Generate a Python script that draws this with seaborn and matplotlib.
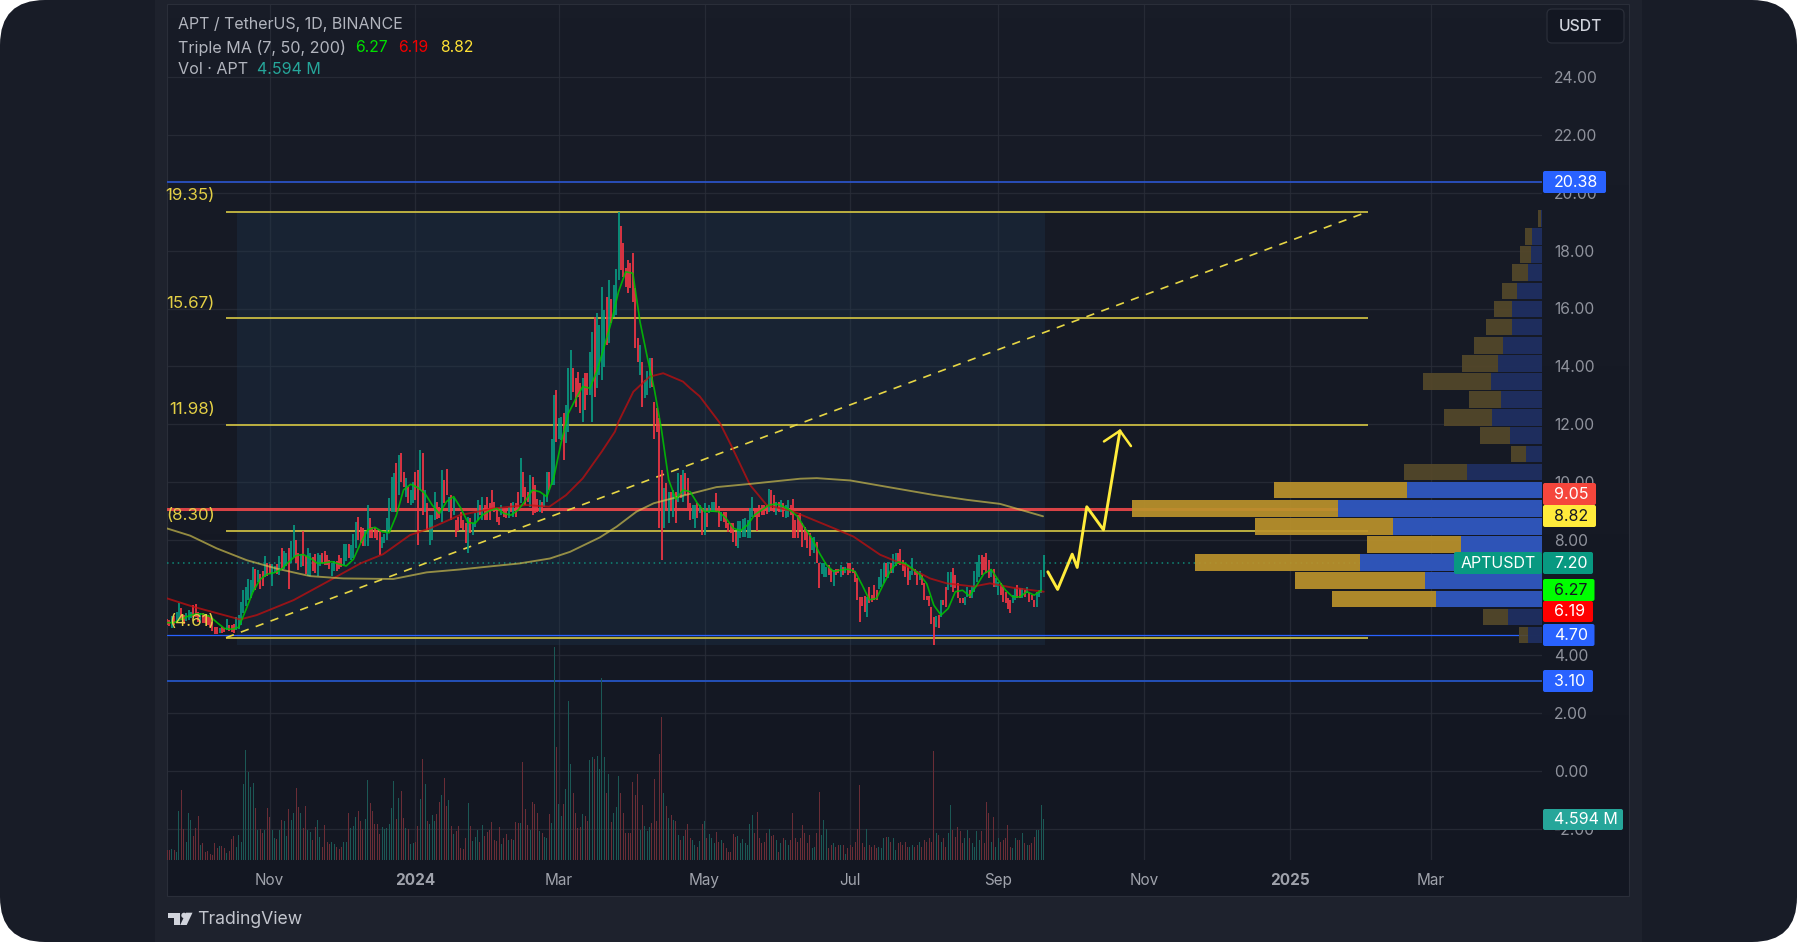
"""APT / USDT daily chart with fib levels and volume profile."""
import numpy as np
import pandas as pd
import matplotlib
matplotlib.use("Agg")
import matplotlib.pyplot as plt
from matplotlib.patches import FancyBboxPatch, Rectangle, Circle, Polygon
import seaborn as sns

W, H = 1797, 942
PANE_L, PANE_R, SCALE_L, PANE_T, PANE_B, VOL_B = 167, 1629, 1542, 4, 896, 860
TEAL, RED = "#089981", "#f23645"
GRID = "#2a2e39"
START = pd.Timestamp("2023-09-19")

# ── daily candles ─────────────────────────────────────────────────────────────
candle_low = [
    5.05,5.0,4.95,5.05,5.13,5.2,5.22,5.1,5.17,5.22,
    5.28,5.33,5.33,5.16,5.13,5.11,5.11,5.05,4.99,4.85,
    4.74,4.74,4.76,4.78,4.82,4.88,4.85,4.82,4.78,4.88,
    4.9,5.05,5.45,5.7,5.9,6.0,6.2,6.25,6.55,6.3,
    6.4,6.7,6.75,6.8,6.4,6.85,6.8,6.78,6.95,7.0,
    7.1,6.3,7.2,7.4,7.2,6.95,7.05,7.1,6.8,6.75,
    6.75,6.9,6.85,6.75,7.1,7.18,7.12,7.12,7.0,6.75,
    6.9,6.9,7.0,7.05,7.12,7.25,7.35,7.3,7.35,7.7,
    8.0,7.9,7.77,7.77,7.77,8.05,8.05,8.05,8.0,7.47,
    7.7,7.87,8.0,8.33,8.97,8.97,8.97,9.55,10.0,9.83,
    9.49,9.26,9.2,9.26,9.37,7.82,9.72,8.85,8.97,8.34,
    7.82,8.0,8.68,8.7,8.74,8.62,9.26,9.55,8.97,8.68,
    8.85,8.1,8.3,8.39,8.34,7.87,7.53,8.22,8.16,8.45,
    8.68,8.85,8.68,8.68,8.68,8.68,9.03,8.95,8.62,8.5,
    8.85,8.8,8.75,8.75,8.97,8.8,8.8,9.09,9.26,9.49,
    9.2,9.3,9.14,8.85,8.91,8.95,8.97,8.91,9.14,9.31,
    9.72,9.9,9.9,11.37,11.5,11.45,10.76,11.33,11.74,12.83,
    13.12,12.6,12.95,12.37,12.08,12.49,13.0,13.0,12.08,12.95,
    13.24,13.7,13.53,13.99,14.74,14.79,15.49,15.72,15.77,16.98,
    17.33,17.1,16.75,16.52,16.7,16.24,14.62,14.16,13.7,12.6,
    12.89,13.0,13.24,13.3,11.5,11.74,8.39,7.3,8.39,9.08,
    8.57,9.0,8.8,8.57,9.3,9.43,9.3,9.55,9.03,8.68,
    8.7,8.4,8.74,8.92,8.16,8.16,8.45,8.92,8.97,8.97,
    8.97,8.45,8.63,8.6,8.4,8.28,8.22,7.93,7.78,7.7,
    8.05,8.1,8.1,8.05,8.05,8.8,8.8,8.3,8.8,8.85,
    8.85,8.9,8.97,9.03,8.97,8.85,8.97,8.97,8.8,8.74,
    8.8,8.85,8.05,8.05,8.05,8.34,7.76,7.99,7.7,7.42,
    7.65,7.53,7.2,6.32,6.8,6.72,6.72,6.78,6.55,6.4,
    6.78,6.84,6.72,6.78,6.84,6.78,6.84,6.84,6.55,5.92,
    5.16,5.7,5.5,5.33,5.8,5.85,5.9,5.9,6.3,6.35,
    6.5,6.7,6.66,6.84,6.84,7.1,7.16,7.12,6.9,6.72,
    6.43,6.6,6.78,6.78,6.43,6.6,6.43,5.9,5.9,5.7,
    5.1,4.36,4.97,4.93,5.33,5.74,5.68,6.26,6.38,6.2,
    6.32,5.97,5.8,5.8,5.75,6.02,6.0,6.0,6.2,6.55,
    6.72,6.78,6.95,6.84,6.66,6.72,6.38,6.38,6.1,6.1,
    5.86,5.8,5.6,5.48,5.8,5.92,5.97,5.97,5.97,6.03,
    6.15,5.86,5.9,5.68,5.68,6.03,6.15,6.72,
]
candle_high = [
    5.25,5.22,5.35,5.35,5.5,5.82,5.63,5.4,5.45,5.57,
    5.5,5.75,5.77,5.5,5.45,5.45,5.4,5.4,5.33,5.16,
    4.99,4.97,4.93,4.99,4.93,5.25,5.05,5.05,5.07,5.33,
    5.4,5.85,6.25,6.35,6.65,6.6,7.05,7.0,6.95,6.8,
    6.9,7.45,7.2,7.15,7.15,7.1,7.15,7.45,7.7,7.6,
    7.55,7.7,7.95,8.5,8.0,7.55,7.5,8.3,7.45,7.7,
    7.55,7.4,7.5,7.55,7.47,7.55,7.62,7.47,7.3,7.2,
    7.25,7.25,7.47,7.35,7.85,7.85,7.85,7.8,8.2,8.62,
    8.77,8.45,8.4,8.3,9.2,8.74,8.45,8.4,8.34,8.34,
    8.1,8.2,8.74,9.43,10.16,10.3,10.65,10.93,10.99,10.35,
    10.12,9.83,9.72,10.0,10.35,10.41,11.1,10.99,9.72,9.26,
    8.85,8.85,9.66,9.3,9.14,10.41,10.07,10.43,9.49,9.55,
    9.43,8.68,8.8,8.97,8.68,8.57,8.8,8.74,8.57,8.91,
    9.37,9.2,9.49,9.2,9.49,9.26,9.72,9.3,9.08,8.8,
    9.2,9.1,9.03,9.14,9.26,9.31,9.26,9.66,10.82,10.35,
    9.83,9.66,10.24,10.18,9.89,9.4,9.37,9.32,9.55,10.35,
    10.35,11.5,13.0,13.18,12.2,12.26,12.37,12.66,13.93,14.56,
    13.93,13.58,13.81,13.41,13.58,13.76,13.78,14.5,15.2,15.72,
    15.83,15.43,16.75,15.95,16.39,16.98,16.33,16.81,17.37,19.35,
    18.87,18.28,17.39,17.68,17.56,17.91,16.7,14.97,14.74,14.16,
    13.52,13.84,14.27,14.27,12.78,12.54,12.2,10.41,9.78,9.95,
    9.66,9.66,9.72,9.66,10.3,10.24,10.41,10.3,10.12,9.26,
    9.2,9.2,9.26,9.2,9.08,9.26,8.91,9.2,9.32,9.32,
    9.6,9.15,8.97,8.95,8.97,8.57,8.57,8.57,8.28,8.63,
    8.63,8.7,8.74,8.68,9.08,9.47,9.08,9.08,9.2,9.2,
    9.2,9.2,9.75,9.72,9.55,9.32,9.32,9.38,9.26,9.2,
    9.38,9.2,9.4,8.68,8.85,8.91,8.57,8.45,8.28,8.22,
    8.05,8.1,7.93,7.2,7.2,7.2,7.07,7.13,7.0,6.95,
    7.0,7.0,7.13,7.07,7.07,7.2,7.2,7.03,6.9,6.67,
    6.02,6.02,6.05,6.02,6.37,6.08,6.42,6.25,6.7,7.0,
    7.18,7.2,7.24,7.18,7.5,7.53,7.53,7.67,7.3,7.18,
    7.13,6.9,7.36,7.0,6.9,6.9,6.78,6.49,6.05,6.05,
    5.68,5.34,5.36,5.4,5.9,5.92,6.38,6.89,6.89,7.01,
    6.78,6.49,6.0,6.0,6.03,6.35,6.25,6.4,6.9,7.24,
    7.47,7.47,7.41,7.55,7.3,7.0,7.0,6.66,6.55,6.49,
    6.37,6.2,6.0,5.9,6.1,6.32,6.43,6.32,6.32,6.26,
    6.38,6.15,6.1,5.92,6.2,6.26,6.95,7.47,
]
candle_up = [
    0,0,1,0,1,1,0,0,1,1, 1,0,0,0,1,0,0,0,0,0, 0,0,1,0,0,1,0,0,0,1,
    1,1,1,1,1,1,1,0,1,0, 0,1,0,0,1,1,0,1,0,1, 1,0,1,1,0,0,1,0,0,1,
    1,0,0,1,1,0,0,0,0,1, 1,0,0,0,1,1,0,1,1,1, 0,0,0,1,1,0,0,0,0,0,
    1,1,1,1,1,1,0,1,0,0, 1,0,1,1,0,0,1,0,1,0, 1,1,1,0,0,1,0,0,1,0,
    1,0,0,0,0,0,1,0,1,1, 1,0,1,0,0,0,0,0,0,0, 1,0,0,1,0,1,0,0,1,0,
    0,0,1,0,0,0,1,0,1,1, 0,1,1,0,1,1,0,1,1,1, 0,0,0,0,1,0,0,1,1,0,
    1,1,1,1,0,1,0,1,1,1, 0,0,0,0,0,0,0,0,1,0, 1,1,1,0,0,0,0,0,1,0,
    1,0,1,0,1,0,1,0,0,0, 1,1,0,1,0,1,0,1,1,1, 0,0,1,0,0,0,0,0,0,1,
    1,1,1,1,1,1,0,0,0,0, 0,0,1,0,0,1,0,1,0,1, 1,0,0,0,0,0,0,0,0,0,
    1,1,0,0,1,1,1,0,0,1, 0,0,1,0,1,0,0,0,0,0, 0,0,0,1,0,0,0,0,1,1,
    1,0,1,0,1,1,0,0,0,0, 0,1,1,0,0,1,0,0,0,0, 0,0,1,0,1,0,0,1,1,0,
    0,0,0,0,1,1,0,1,1,1, 1,0,0,0,0,1,0,1,1,0, 0,0,0,0,1,1,0,0,1,0,
    1,0,0,0,1,1,1,1,
]
volumes = [
    1.1,1.1,1.2,1.1,.9,5.5,7.8,3.5,2.0,5.3, 4.5,2.7,3.6,4.9,1.7,1.9,.9,1.0,.7,.6,
    1.9,1.3,1.6,1.6,1.3,.8,1.0,2.3,2.7,1.5, 2.8,2.0,8.5,12.3,9.8,8.2,8.6,5.8,3.3,3.5,
    3.0,3.4,5.8,4.8,3.4,2.5,2.3,3.3,4.5,4.4, 2.7,5.7,4.5,5.3,8.0,5.9,5.3,3.6,6.0,3.3,
    3.1,2.2,3.7,4.5,2.6,1.4,3.9,2.0,1.8,2.0, 1.8,1.4,1.2,1.5,2.0,2.0,5.3,3.6,3.8,4.8,
    5.5,4.4,3.5,4.6,8.9,6.4,5.5,4.0,4.0,2.9, 3.7,3.5,3.6,4.0,5.8,8.8,4.6,6.9,7.7,4.7,
    3.6,3.5,1.8,1.9,2.0,3.8,6.8,11.3,8.5,4.4, 4.0,5.0,4.4,5.1,6.5,7.3,9.1,6.0,6.7,3.8,
    2.9,3.2,3.8,1.3,1.2,2.5,6.4,3.8,2.1,2.6, 3.3,2.0,3.9,2.7,3.1,3.3,4.2,2.2,2.1,3.7,
    1.8,2.4,2.9,2.2,2.3,2.2,4.2,4.1,4.1,10.9, 5.7,3.9,3.3,6.5,6.2,5.2,3.2,3.0,2.6,2.5,
    5.1,4.1,23.8,12.6,6.3,4.9,6.2,7.9,17.7,10.7, 7.5,5.2,3.6,3.7,5.1,4.9,4.4,11.2,11.5,11.3,
    11.6,10.1,20.3,11.5,7.5,9.6,4.2,5.2,5.9,9.4, 7.5,5.2,3.0,3.0,3.0,8.7,7.3,9.6,3.3,6.1,
    3.8,3.2,3.7,4.1,9.0,4.3,11.8,16.0,7.5,6.0, 4.7,5.0,4.5,4.3,2.8,2.2,2.7,3.3,4.0,2.4,
    2.2,1.7,1.4,2.1,4.0,4.3,2.4,2.9,2.4,1.9, 3.1,2.0,2.2,1.9,1.3,.9,.9,2.9,2.6,2.7,
    1.9,2.3,1.9,1.7,4.0,5.0,3.0,5.4,2.4,1.9, 2.0,3.0,3.5,2.7,2.8,2.2,.9,1.9,2.4,2.2,
    1.7,2.2,5.3,2.4,2.0,2.4,3.9,3.0,1.9,2.8, 1.3,1.5,3.0,7.6,2.8,4.5,3.5,1.3,1.7,1.9,
    1.5,1.7,1.7,1.7,.7,1.3,1.7,1.5,2.0,3.5, 8.4,1.9,1.5,3.5,1.7,1.5,1.7,1.3,1.5,1.3,
    2.4,2.6,2.6,2.0,2.4,1.1,1.9,2.0,1.7,2.0, 1.5,1.5,1.7,1.5,1.7,2.0,1.5,2.2,2.0,2.4,
    2.0,12.2,3.0,2.8,2.0,2.4,1.5,3.0,6.1,3.3, 2.6,3.7,3.2,1.9,2.4,3.3,2.4,1.9,1.5,3.2,
    2.2,3.2,1.9,6.5,5.2,2.0,4.8,1.5,2.4,2.0, 2.2,2.4,3.9,1.5,1.3,2.4,2.2,2.2,3.0,1.9,
    1.7,1.7,1.9,2.6,3.3,3.4,6.1,4.6,
]

# ── moving averages ───────────────────────────────────────────────────────────
ma7 = [
    5.13,5.13,5.25,5.36,5.43,5.43,5.34,5.13,4.93,4.9,
    4.97,5.57,6.2,6.63,6.81,6.86,6.98,7.24,7.45,7.49,
    7.36,7.18,7.2,7.24,7.16,7.09,7.32,7.87,8.34,8.43,
    8.28,8.24,8.84,9.72,9.92,9.8,9.6,9.2,8.9,9.32,
    9.49,9.09,8.59,8.57,8.85,9.0,9.08,8.91,8.85,9.03,
    9.35,9.72,9.66,9.49,10.18,11.37,12.37,12.86,13.3,13.24,
    13.85,14.68,15.54,16.58,17.27,17.22,15.54,14.33,13.2,11.8,
    10.07,9.4,9.72,9.66,9.26,8.97,8.99,8.97,8.74,8.4,
    8.31,8.51,8.86,9.03,9.2,9.24,9.15,9.01,8.8,8.4,
    8.05,7.55,7.13,6.9,6.95,6.98,6.9,6.43,5.92,5.97,
    6.48,6.95,7.23,7.18,7.0,6.8,6.48,5.73,5.39,5.62,
    6.2,6.25,6.05,6.43,6.83,6.97,6.6,6.25,6.02,6.02,
    6.2,6.08,6.25,
]
ma50_day = [0,11,30.6,37.5,53,67,81,90.5,101.7,110,122.6,136.6,150.5,160,167,174,182,187.5,189,195.2,
            202,207.7,216,219,223,231.5,236.4,244,251,262,279,287.3,298.5,307,319.4,326.4,337.5,344.5,354,367]
ma50 = [5.97,5.68,5.24,5.39,5.91,6.54,7.18,7.5,8.16,8.39,8.85,9.08,9.2,9.14,9.54,10.12,11.05,11.74,12.08,13.12,
        13.64,13.76,13.47,13.24,12.96,12.03,11.22,9.9,9.2,8.98,8.4,8.11,7.48,7.19,6.66,6.49,6.38,6.49,6.34,6.2]
ma200_day = [0,9.7,20.8,33.4,45.9,59.9,73.8,94.7,108.7,122.6,147.7,160.3,168.7,181.2,188.2,196.5,203.7,212,
             230,244,265,272,286,298.5,320.8,334.8,348.7,366.7]
ma200 = [8.39,8.14,7.7,7.29,7.0,6.74,6.66,6.64,6.87,6.97,7.18,7.35,7.58,8.08,8.45,8.97,9.26,9.44,
         9.82,9.93,10.11,10.13,10.05,9.87,9.55,9.38,9.24,8.81]

# ── levels and drawings ───────────────────────────────────────────────────────
fib_levels = [19.35, 15.67, 11.98, 8.30, 4.61]
fib_labels = ["19.35)", "15.67)", "11.98)", "(8.30)", "(4.61)"]
fib_label_y = [196, 303, 410, 516, 621]
fib_start_day, fib_end_day = 24.7, 502.7
box_start_day, box_end_day, box_bottom = 29.3, 367.6, 4.35
path_day = [368.7, 372.8, 378.9, 381, 385, 392, 398.9]
path_price = [6.89, 6.28, 7.5, 7.04, 9.14, 8.34, 11.77]
head_day = [392.2, 398.9, 403.5]
head_price = [11.4, 11.77, 11.24]

# ── volume profile, top row to bottom ─────────────────────────────────────────
vp_price = [19.12,18.49,17.86,17.24,16.61,15.98,15.36,14.73,14.10,13.48,12.85,12.22,
            11.60,10.97,10.34,9.72,9.09,8.46,7.84,7.21,6.58,5.95,5.33,4.70]
vp_buy = [.7,10.3,11,14.3,24.7,30,30.3,39,44,50.7,40.7,50,32,16,75,134.5,204,149,81,182,117,106,33.6,13.6]
vp_sell = [3.3,6.4,11,16,15.3,18,26,29,36,68.3,32.3,47.7,30,15.3,63,133.3,206,138,94,164.6,130,104.3,25.4,9.4]
vp_value_area = [0]*15 + [1]*7 + [0]*2

price_ticks = [24, 22, 20, 18, 16, 14, 12, 10, 8, 4, 2, 0, -2]
month_dates = ["2023-11-01","2024-01-01","2024-03-01","2024-05-01","2024-07-01",
               "2024-09-01","2024-11-01","2025-01-01","2025-03-01"]
month_labels = ["Nov","2024","Mar","May","Jul","Sep","Nov","2025","Mar"]

PX_PER_DAY, PX_PER_UNIT = 2.389, 28.9
price_at = lambda y: 24 - (y - 77.3) / PX_PER_UNIT

sns.set_theme(style="dark", rc={"axes.facecolor": "none", "figure.facecolor": "white"})
plt.rcParams["font.family"] = ["Inter", "DejaVu Sans"]

fig = plt.figure(figsize=(W / 100, H / 100), dpi=100)

def px_axes(left, top, right, bottom, z):
    ax = fig.add_axes([left / W, 1 - bottom / H, (right - left) / W, (bottom - top) / H], zorder=z)
    ax.patch.set_alpha(0)
    return ax

# background card, panel and pane
bg = px_axes(0, 0, W, H, 0)
bg.set_xlim(0, W); bg.set_ylim(H, 0); bg.axis("off")
card = FancyBboxPatch((0, 0), W, H, boxstyle="round,pad=0,rounding_size=45", fc="#181c27", ec="none")
bg.add_patch(card)
bg.add_patch(Rectangle((155, 0), 1642 - 155, H, fc="#1e222d", ec="none"))
bg.imshow(np.linspace(0, 1, 64)[:, None], extent=(PANE_L, PANE_R, PANE_B, PANE_T), aspect="auto", zorder=1,
          cmap=matplotlib.colors.LinearSegmentedColormap.from_list("pane", ["#181c27", "#131722"]))
bg.add_patch(Rectangle((PANE_L, PANE_T), PANE_R - PANE_L, PANE_B - PANE_T, fc="none", ec=GRID, lw=0.8, zorder=2))
bg.set_xlim(0, W); bg.set_ylim(H, 0)

# main price pane
ax = px_axes(PANE_L, PANE_T, SCALE_L, VOL_B, 1)
days = np.arange(len(candle_low))
ax.add_patch(Rectangle((box_start_day, box_bottom), box_end_day - box_start_day, 19.35 - box_bottom,
                       fc="#1f3a55", ec="none", alpha=0.3, zorder=1))
ax.axhline(20.38, color="#2a52c4", lw=1.3, zorder=2)
ax.axhline(3.10, color="#2450b8", lw=1.4, zorder=2)
ax.axhline(4.70, color="#2962ff", lw=0.9, zorder=3)
ax.axhline(9.05, color="#f0484a", lw=2.2, alpha=0.9, zorder=2)
ax.axhline(7.20, color="#0f8a78", lw=1.1, ls=(0, (1, 2.5)), zorder=2)
ax.hlines(fib_levels, fib_start_day, fib_end_day, color="#c9bb42", lw=1.3, zorder=3)
sns.lineplot(x=[fib_start_day, fib_end_day], y=[fib_levels[-1], fib_levels[0]], color="#e6d645", lw=1.2,
             ls=(0, (5, 4.5)), estimator=None, ax=ax, zorder=3)

colors = [TEAL if u else RED for u in candle_up]
ax.vlines(days, candle_low, candle_high, colors=colors, lw=1.25, zorder=4)

sns.lineplot(x=np.arange(len(ma7)) * 3, y=ma7, color="#00c800", lw=1.2, alpha=0.85, estimator=None, ax=ax, zorder=6)
sns.lineplot(x=ma50_day, y=ma50, color="#c40f0f", lw=1.35, alpha=0.75, estimator=None, ax=ax, zorder=5)
sns.lineplot(x=ma200_day, y=ma200, color="#d8c850", lw=1.35, alpha=0.65, estimator=None, ax=ax, zorder=5)
sns.lineplot(x=path_day, y=path_price, color="#ffeb3b", lw=2.1, estimator=None, sort=False, ax=ax, zorder=6)
sns.lineplot(x=head_day, y=head_price, color="#ffeb3b", lw=1.8, estimator=None, sort=False, ax=ax, zorder=6)

ax.set_xlim(0, (SCALE_L - PANE_L) / PX_PER_DAY)
ax.set_ylim(price_at(VOL_B), price_at(PANE_T))
ax.set_yticks(price_ticks)
ax.set_yticklabels([f"{v:.2f}" for v in price_ticks], fontsize=11.3, color="#8f929c")
ax.yaxis.tick_right()
tick_days = [(pd.Timestamp(d) - START).days for d in month_dates]
ax.set_xticks(tick_days)
ax.set_xticklabels(month_labels, fontsize=11, color="#a0a3ac")
for lab, txt in zip(ax.get_xticklabels(), month_labels):
    if txt.isdigit():
        lab.set_fontweight("bold")
ax.tick_params(axis="y", length=0, pad=8.6)
ax.tick_params(axis="x", length=0, pad=9.2)
ax.grid(True, color=GRID, lw=0.9, alpha=0.8)
ax.set_axisbelow(True)
ax.set_xlabel(""); ax.set_ylabel("")
for s in ax.spines.values():
    s.set_visible(False)

# volume pane
ax_vol = px_axes(PANE_L, 640, SCALE_L, VOL_B, 2)
vol_df = pd.DataFrame({"day": days[:len(volumes)], "vol": volumes[:len(days)],
                       "side": ["up" if u else "down" for u in candle_up[:len(volumes)]]})
sns.barplot(data=vol_df, x="day", y="vol", hue="side", palette={"up": "#1b5855", "down": "#6a2d36"},
            native_scale=True, dodge=False, width=0.42, saturation=1, legend=False, linewidth=0, ax=ax_vol)
ax_vol.set_xlim(ax.get_xlim())
ax_vol.set_ylim(0, 24.55)
ax_vol.axis("off")

# volume profile, growing left from the price scale
ax_vp = px_axes(PANE_L, PANE_T, SCALE_L, VOL_B, 3)
vp = pd.DataFrame({"price": vp_price, "buy": vp_buy, "total": np.add(vp_buy, vp_sell),
                   "zone": ["in" if v else "out" for v in vp_value_area]})
sns.barplot(data=vp, x="total", y="price", hue="zone", palette={"in": "#bb922b", "out": "#54482a"}, orient="y",
            native_scale=True, dodge=False, width=0.93, saturation=1, legend=False, linewidth=0, alpha=0.92, ax=ax_vp)
sns.barplot(data=vp, x="buy", y="price", hue="zone", palette={"in": "#2350c4", "out": "#1a2c62"}, orient="y",
            native_scale=True, dodge=False, width=0.93, saturation=1, legend=False, linewidth=0, alpha=0.92, ax=ax_vp)
ax_vp.set_xlim(SCALE_L - PANE_L, 0)
ax_vp.set_ylim(ax.get_ylim())
ax_vp.axis("off")

# overlay: header text, fib labels, price badges, footer
ov = px_axes(0, 0, W, H, 4)
ov.set_xlim(0, W); ov.set_ylim(H, 0); ov.axis("off")

GREY = "#b2b5be"
ov.text(178, 25, "APT / TetherUS, 1D, BINANCE", color=GREY, fontsize=11.5, va="center")
ov.text(178, 47.5, "Triple MA (7, 50, 200)", color=GREY, fontsize=11.6, va="center")
ov.text(355, 47.5, "6.27", color="#00e000", fontsize=11.3, va="center")
ov.text(398, 47.5, "6.19", color="#f00000", fontsize=11.3, va="center")
ov.text(440, 47.5, "8.82", color="#ffe135", fontsize=11.3, va="center")
ov.text(178, 69, "Vol · APT", color=GREY, fontsize=11.6, va="center")
ov.text(257, 69, "4.594 M", color="#26a69a", fontsize=11.5, va="center")

for lab, y in zip(fib_labels, fib_label_y):
    ov.text(214.5, y, lab, color="#e3cf45", fontsize=12.2, ha="right", va="center")

def badge(x0, x1, y0, y1, fc, txt, tc, tx=1554):
    ov.add_patch(FancyBboxPatch((x0, y0), x1 - x0, y1 - y0, boxstyle="round,pad=0,rounding_size=2",
                                fc=fc, ec="none"))
    ov.text(tx, (y0 + y1) / 2 + 0.5, txt, color=tc, fontsize=11.5, va="center")

badge(1543, 1606, 171, 193, "#2962ff", "20.38", "white")
badge(1543, 1596, 483, 505, "#f5463c", "9.05", "white")
badge(1543, 1596, 505, 527, "#ffeb3b", "8.82", "#131722")
badge(1454, 1542, 552, 574, "#089981", "APTUSDT", "white", tx=1461)
badge(1543, 1593, 552, 574, TEAL, "7.20", "white")
badge(1543, 1594.5, 579, 601, "#00ff00", "6.27", "#131722")
badge(1543, 1593, 601, 622, "#ff0000", "6.19", "white")
badge(1543, 1594.5, 624, 646, "#2962ff", "4.70", "white")
badge(1543, 1593, 670, 692, "#2962ff", "3.10", "white")
badge(1543, 1623, 809, 830, "#26a69a", "4.594 M", "white")

ov.add_patch(FancyBboxPatch((1547, 9), 77, 34, boxstyle="round,pad=0,rounding_size=5", fc="#131722", ec=GRID, lw=0.9))
ov.text(1559, 26.5, "USDT", color="#d1d4dc", fontsize=11.3, fontweight="medium", va="center")

# TradingView mark
LOGO = "#d1d4dc"
ov.add_patch(Rectangle((168.4, 912.7), 11.5, 5.2, fc=LOGO, ec="none"))
ov.add_patch(Rectangle((173.6, 912.7), 6.3, 12.3, fc=LOGO, ec="none"))
ov.add_patch(Circle((184, 915.4), 2.7, fc=LOGO, ec="none"))
ov.add_patch(Polygon([(186, 912.7), (192.5, 912.7), (186.7, 925), (180.2, 925)], fc=LOGO, ec="none"))
ov.text(197, 920, "TradingView", color="#c3c6ce", fontsize=12.7, va="center")

fig.savefig("out.png", dpi=100, facecolor="white")
